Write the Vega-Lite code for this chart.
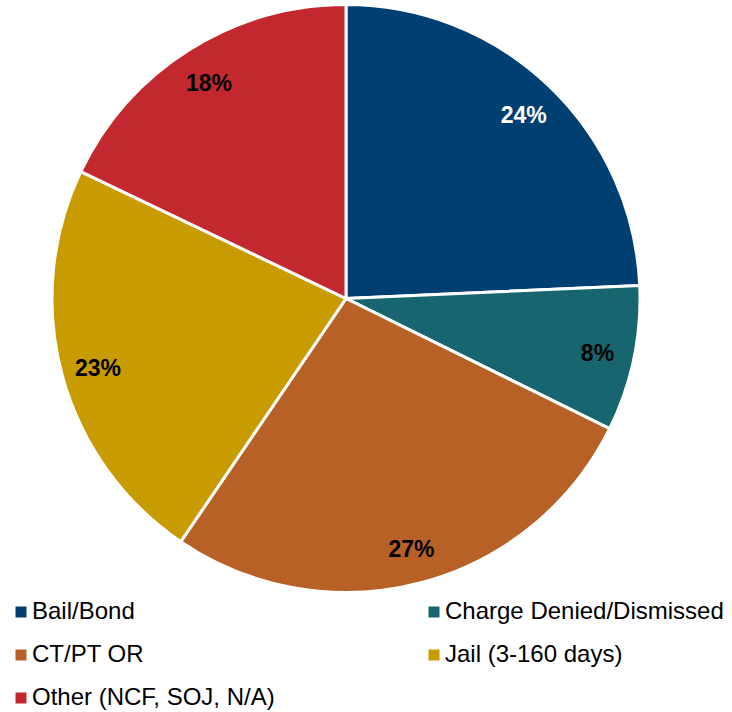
{
  "$schema": "https://vega.github.io/schema/vega-lite/v6.json",
  "width": 692,
  "height": 597,
  "padding": {"left": 0, "top": 0, "right": 40, "bottom": 115},
  "autosize": {"type": "none"},
  "background": "white",
  "config": {"view": {"stroke": null}},
  "data": {"values": [
    {"category": "Bail/Bond", "pct": 24.3, "idx": 1, "label": "24%"},
    {"category": "Charge Denied/Dismissed", "pct": 8.0, "idx": 2, "label": "8%"},
    {"category": "CT/PT OR", "pct": 27.2, "idx": 3, "label": "27%"},
    {"category": "Jail (3-160 days)", "pct": 22.6, "idx": 4, "label": "23%"},
    {"category": "Other (NCF, SOJ, N/A)", "pct": 17.9, "idx": 5, "label": "18%"}
  ]},
  "encoding": {
    "theta": {"field": "pct", "type": "quantitative", "stack": true},
    "order": {"field": "idx", "type": "quantitative"}
  },
  "layer": [
    {
      "mark": {"type": "arc", "outerRadius": 294, "stroke": "white", "strokeWidth": 3},
      "encoding": {
        "color": {
          "field": "category", "type": "nominal",
          "scale": {
            "domain": ["Bail/Bond", "Charge Denied/Dismissed", "CT/PT OR", "Jail (3-160 days)", "Other (NCF, SOJ, N/A)"],
            "range": ["#003f72", "#17666f", "#b86126", "#c89b00", "#c3282f"]
          },
          "legend": {
            "orient": "none",
            "direction": "horizontal",
            "legendX": 9,
            "legendY": 600,
            "padding": 0,
            "title": null,
            "columns": 2,
            "columnPadding": 147,
            "rowPadding": 19,
            "symbolType": "square",
            "symbolSize": 121,
            "symbolStrokeWidth": 0,
            "labelFont": "Liberation Sans",
            "labelFontSize": 24,
            "labelColor": "#000000",
            "labelLimit": 400,
            "labelOffset": -1
          }
        }
      }
    },
    {
      "mark": {"type": "text", "radius": 257, "dy": 3, "font": "Liberation Sans", "fontWeight": "bold", "fontSize": 23},
      "encoding": {
        "text": {"field": "label"},
        "color": {"condition": {"test": "datum.category === 'Bail/Bond'", "value": "white"}, "value": "black"}
      }
    }
  ]
}
